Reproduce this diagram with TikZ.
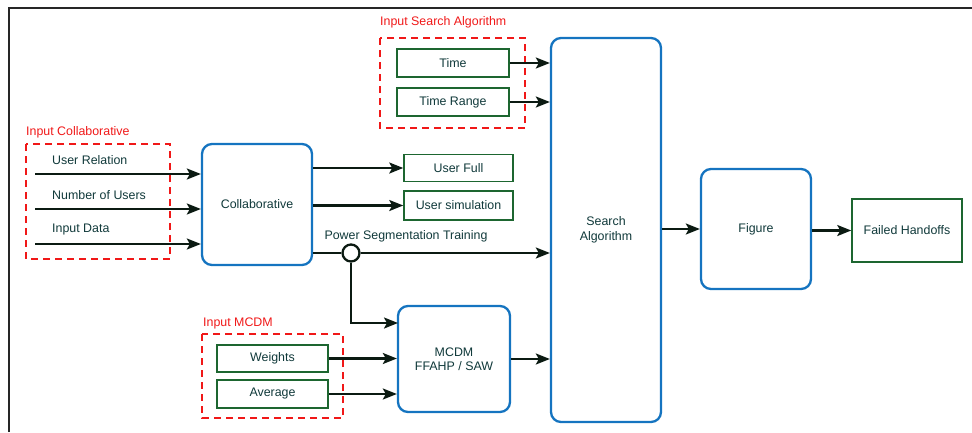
\documentclass[tikz,border=0pt]{standalone}
\usepackage{fontspec}
\setmainfont{Liberation Sans}
\usetikzlibrary{arrows.meta}
\definecolor{boxblue}{HTML}{1574C0}
\definecolor{boxgreen}{HTML}{1D6630}
\definecolor{txt}{HTML}{10393A}
\definecolor{wire}{HTML}{0B1A12}
\definecolor{grpred}{HTML}{F01818}
\tikzset{
  every node/.style={font=\fontsize{12.4}{14.5}\selectfont, text=txt, inner sep=0pt},
  block/.style={draw=boxblue, line width=2.3pt, rounded corners=10pt, fill=white, align=center},
  inbox/.style={draw=boxgreen, line width=1.5pt, fill=white},
  group/.style={draw=grpred, line width=1.6pt, dash pattern=on 7pt off 5pt},
  grouplabel/.style={text=grpred, anchor=west},
  flow/.style={draw=wire, line width=2.3pt, -{Stealth[length=14pt,width=11pt,inset=3pt]}},
  plain/.style={draw=wire, line width=2.3pt},
  frameline/.style={draw=black!85, line width=1.4pt}
}
\begin{document}
\begin{tikzpicture}[x=1pt,y=-1pt]
\useasboundingbox (0,0) rectangle (972,432);
% page frame
\draw[frameline] (9,432) -- (9,8) -- (972,8);

% dashed input groups
\draw[group] (380,38) rectangle (525,128);
\node[grouplabel] (lblsearch) at (380,22) {Input Search Algorithm};
\draw[group] (26,144) rectangle (170,259);
\node[grouplabel] (lblcollab) at (26,132) {Input Collaborative};
\draw[group] (202,334) rectangle (343,418);
\node[grouplabel] (lblmcdm) at (203,323) {Input MCDM};

% main blocks
\node[block, minimum width=110pt, minimum height=384pt] (search) at (606,230) {Search\\Algorithm};
\node[block, minimum width=110pt, minimum height=120pt] (figure) at (756,229) {Figure};
\node[block, minimum width=110pt, minimum height=121pt] (collab) at (257,204.5) {Collaborative};
\node[block, minimum width=112pt, minimum height=106pt] (mcdm) at (454,359) {MCDM\\FFAHP / SAW};

% plain boxes
\node[inbox, minimum width=112pt, minimum height=28pt] (time) at (453,63) {Time};
\node[inbox, minimum width=112pt, minimum height=28pt] (trange) at (453,102) {Time Range};
\node[inbox, minimum width=109pt, minimum height=27pt] (ufull) at (458.5,168) {User Full};
\node[inbox, minimum width=109pt, minimum height=29pt] (usim) at (458.5,205.5) {User simulation};
\node[inbox, minimum width=111pt, minimum height=27pt] (weights) at (272.5,358.5) {Weights};
\node[inbox, minimum width=111pt, minimum height=28pt] (average) at (272.5,394) {Average};
\node[inbox, minimum width=110pt, minimum height=63pt] (failed) at (907,230.5) {Failed Handoffs};

% collaborative inputs
\coordinate (inrel) at (35,174);
\coordinate (innum) at (35,209);
\coordinate (indata) at (35,244);
\node[anchor=west] (trel) at (52,160) {User Relation};
\node[anchor=west] (tnum) at (52,195) {Number of Users};
\node[anchor=west] (tdata) at (52,230) {Input Data};
\draw[flow] (inrel) -- (inrel -| collab.west);
\draw[flow] (innum) -- (innum -| collab.west);
\draw[flow] (indata) -- (indata -| collab.west);

% search algorithm inputs
\draw[flow] (time.east) -- (time.east -| search.west);
\draw[flow] (trange.east) -- (trange.east -| search.west);

% collaborative outputs
\draw[flow] (ufull.west -| collab.east) -- (ufull.west);
\draw[flow] (usim.west -| collab.east) -- (usim.west);

% power segmentation training branch
\node[draw=wire, line width=2.3pt, circle, minimum size=17pt, fill=white] (junc) at (351,253) {};
\node (tpower) at (406,236) {Power Segmentation Training};
\coordinate (mcdmin) at (398,323);
\draw[plain] (junc.west -| collab.east) -- (junc.west);
\draw[flow] (junc.east) -- (junc.east -| search.west);
\draw[flow] (junc.south) |- (mcdmin);

% MCDM inputs and output
\draw[flow] (weights.east) -- (weights.east -| mcdm.west);
\draw[flow] (average.east) -- (average.east -| mcdm.west);
\draw[flow] (mcdm.east) -- (mcdm.east -| search.west);

% result chain
\draw[flow] (search.east |- figure.west) -- (figure.west);
\draw[flow] (figure.east |- failed.west) -- (failed.west);
\end{tikzpicture}
\end{document}
